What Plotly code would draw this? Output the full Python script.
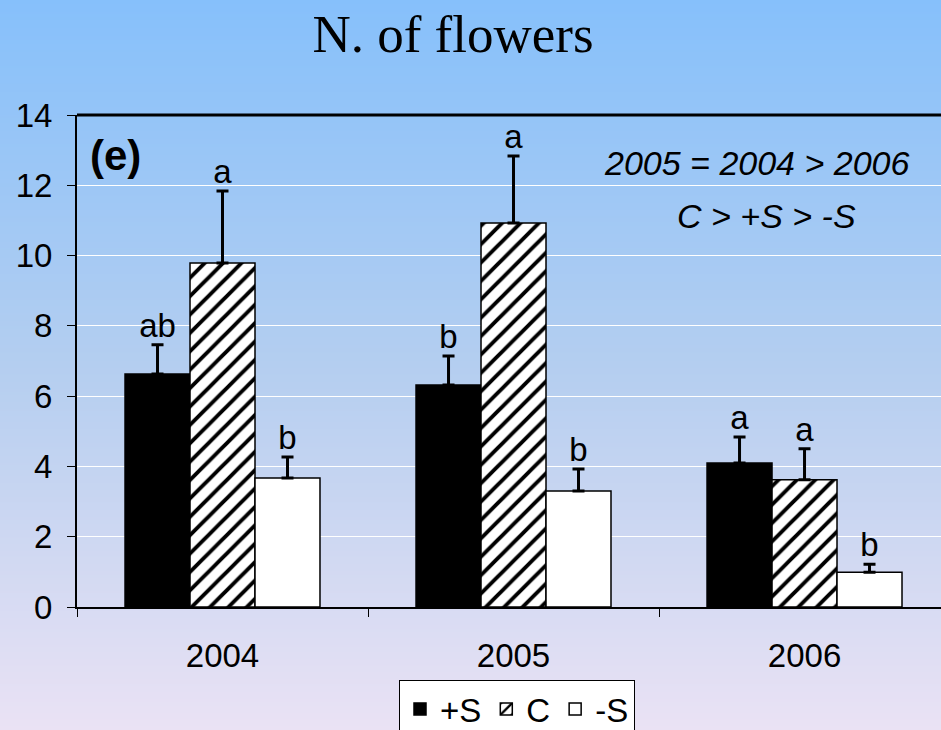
import base64
import struct
import zlib
import plotly.graph_objects as go

# ---------------- data ----------------
years = ["2004", "2005", "2006"]
plus_s = [6.63, 6.32, 4.10]
plus_s_err = [0.83, 0.82, 0.74]
control = [9.79, 10.93, 3.62]
control_err = [2.05, 1.90, 0.88]
minus_s = [3.67, 3.30, 0.99]
minus_s_err = [0.60, 0.63, 0.23]
plus_s_letters = ["ab", "b", "a"]
control_letters = ["a", "a", "a"]
minus_s_letters = ["b", "b", "b"]
y_ticks = [0, 2, 4, 6, 8, 10, 12, 14]

W, H = 941, 730
ML, MR, MT, MB = 77, 0, 115, 123
PW, PH = W - ML - MR, H - MT - MB


# ---------------- gradient background (PNG data URI) ----------------
def gradient_png(h, stops):
    rows = b""
    for i in range(h):
        t = i / (h - 1)
        for (t0, c0), (t1, c1) in zip(stops[:-1], stops[1:]):
            if t0 <= t <= t1:
                f = (t - t0) / (t1 - t0) if t1 > t0 else 0
                c = [round(a + (b - a) * f) for a, b in zip(c0, c1)]
                break
        rows += b"\x00" + bytes(c)

    def chunk(tag, data):
        return (struct.pack(">I", len(data)) + tag + data
                + struct.pack(">I", zlib.crc32(tag + data) & 0xFFFFFFFF))

    png = b"\x89PNG\r\n\x1a\n"
    png += chunk(b"IHDR", struct.pack(">IIBBBBB", 1, h, 8, 2, 0, 0, 0))
    png += chunk(b"IDAT", zlib.compress(rows))
    png += chunk(b"IEND", b"")
    return "data:image/png;base64," + base64.b64encode(png).decode()


bg = gradient_png(H, [(0.0, (134, 192, 251)), (0.5, (180, 206, 240)), (1.0, (234, 226, 244))])

FONT = "Liberation Sans, Arial, sans-serif"
FS = 33

fig = go.Figure()

series = [
    ("+S", plus_s, plus_s_err, plus_s_letters, "black", None),
    ("C", control, control_err, control_letters, "white", "/"),
    ("-S", minus_s, minus_s_err, minus_s_letters, "white", None),
]

for name, vals, errs, letters, color, pat in series:
    marker = dict(color=color, line=dict(color="black", width=1.5))
    if pat:
        marker["pattern"] = dict(shape=pat, fgcolor="black", bgcolor="white",
                                 size=13, solidity=0.3, fillmode="replace", fgopacity=1)
    fig.add_trace(go.Bar(
        x=years, y=vals, name=name, offsetgroup=name, marker=marker,
        error_y=dict(type="data", symmetric=False, array=errs,
                     arrayminus=[0] * len(errs), color="black",
                     thickness=3, width=6),
    ))

for name, vals, errs, letters, color, pat in series:
    fig.add_trace(go.Scatter(
        x=years, y=[v + e for v, e in zip(vals, errs)], mode="text",
        text=letters, textposition="top center", offsetgroup=name,
        textfont=dict(size=FS, color="black", family=FONT),
        showlegend=False, hoverinfo="skip",
    ))

fig.update_layout(
    width=W, height=H,
    margin=dict(l=ML, r=MR, t=MT, b=MB, pad=0, autoexpand=False),
    paper_bgcolor="rgb(180,206,240)",
    plot_bgcolor="rgba(0,0,0,0)",
    barmode="group", bargap=0.33, bargroupgap=0,
    scattermode="group", scattergap=0.33,
    font=dict(family=FONT, size=FS, color="black"),
    title=dict(text="N. of flowers", x=453 / W, xanchor="center",
               y=1 - 33 / H, yanchor="middle",
               font=dict(family="Liberation Serif, Times New Roman, serif", size=53, color="black")),
    showlegend=True,
    legend=dict(orientation="h", x=(517 - ML) / PW, xanchor="center",
                y=-(680 - 607) / PH, yanchor="top",
                bgcolor="white", bordercolor="black", borderwidth=1,
                font=dict(size=FS, family=FONT, color="black"),
                itemwidth=30, traceorder="normal"),
    images=[dict(source=bg, xref="paper", yref="paper",
                 x=-ML / PW, y=1 + MT / PH, sizex=W / PW, sizey=H / PH,
                 xanchor="left", yanchor="top", sizing="stretch", layer="below")],
)

fig.update_xaxes(
    type="category", range=[-0.5, 2.469],
    showline=True, linecolor="black", linewidth=2,
    ticks="outside", tickson="boundaries", ticklen=8, tickcolor="black", tickwidth=1,
    tickfont=dict(size=FS, family=FONT), showgrid=False, fixedrange=True,
    ticklabelstandoff=18,
)
fig.update_yaxes(
    range=[0, 14], tickvals=y_ticks,
    showline=True, linecolor="black", linewidth=2,
    ticks="outside", ticklen=8, tickcolor="black", tickwidth=1,
    tickfont=dict(size=FS, family=FONT), ticklabelstandoff=8,
    showgrid=True, gridcolor="white", gridwidth=1, zeroline=False,
)

# top frame line of plot area
fig.add_shape(type="line", xref="paper", yref="paper", x0=0, x1=1, y0=1, y1=1,
              line=dict(color="black", width=3))

fig.add_annotation(text="<b>(e)</b>", xref="paper", yref="paper",
                   x=(88 - ML) / PW, xanchor="left", y=1 - (155 - MT) / PH, yanchor="middle",
                   showarrow=False, font=dict(size=42, family=FONT, color="black"))
fig.add_annotation(text="<i>2005 = 2004 > 2006</i>", xref="paper", yref="paper",
                   x=(756 - ML) / PW, xanchor="center", y=1 - (163 - MT) / PH, yanchor="middle",
                   showarrow=False, font=dict(size=34, family=FONT, color="black"))
fig.add_annotation(text="<i>C > +S > -S</i>", xref="paper", yref="paper",
                   x=(766 - ML) / PW, xanchor="center", y=1 - (216 - MT) / PH, yanchor="middle",
                   showarrow=False, font=dict(size=34, family=FONT, color="black"))

fig.write_html("out.html", config={"displayModeBar": False},
               post_script="document.body.style.margin='0';document.body.style.padding='0';")
